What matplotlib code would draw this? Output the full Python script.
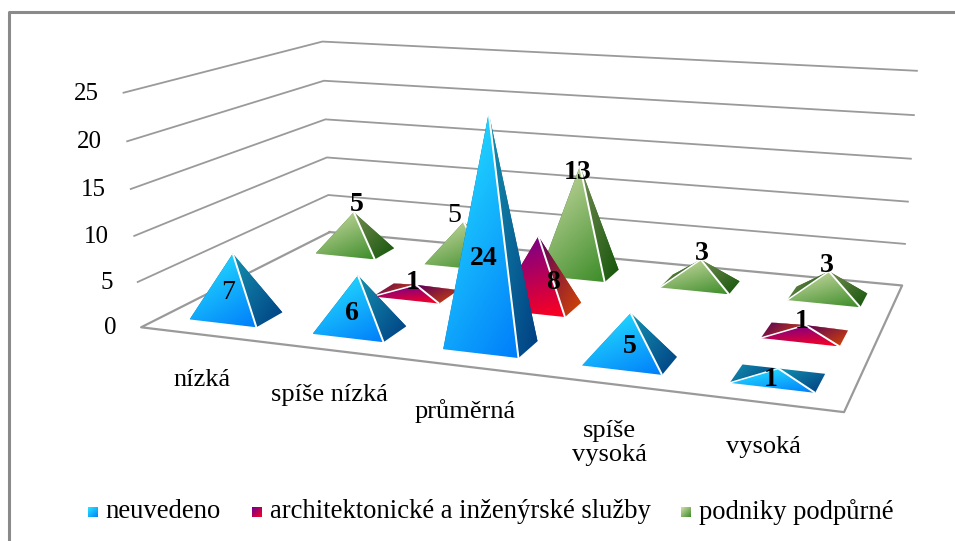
import numpy as np
import matplotlib
matplotlib.use('Agg')
import matplotlib.pyplot as plt
from matplotlib.patches import Polygon

plt.rcParams['font.family'] = ['Liberation Serif', 'DejaVu Serif']

# data
kategorie = ['nízká', 'spíše nízká', 'průměrná', 'spíše\nvysoká', 'vysoká']
neuvedeno = [7, 6, 24, 5, 1]
architekti = [0, 1, 8, 0, 1]
podpurne = [5, 5, 13, 3, 3]
serie_nazvy = ['neuvedeno', 'architektonické a inženýrské služby', 'podniky podpůrné']
osa_z = [0, 5, 10, 15, 20, 25]

# barvy: (svetla, tmava) pro prednu a bocni stenu
barvy = [
    ((40, 232, 255), (0, 125, 250), (20, 145, 175), (0, 62, 130)),
    ((105, 0, 150), (255, 0, 30), (85, 0, 95), (215, 70, 0)),
    ((212, 224, 172), (60, 140, 40), (115, 140, 80), (20, 85, 10)),
]

# kalibrace perspektivy: (kategorie, rada, hodnota) -> pixel
kal_3d = [(0, 0, 0), (5, 0, 0), (5, 3, 0), (0, 3, 0),
          (0, 0, 25), (0, 3, 25), (5, 3, 25),
          (0, 0, 10), (0, 3, 10), (5, 3, 10)]
kal_px = [(141, 327), (844, 412), (902, 286), (330, 232),
          (124, 92), (322, 42), (917, 71),
          (134, 237), (327, 157), (908, 201)]

# posuny popisku hodnot v pixelech (rada, kategorie)
posun = {(0, 0): (-4, 3), (0, 1): (-4, 7), (0, 2): (-3, 9), (0, 3): (3, 6), (0, 4): (-2, 15),
         (1, 1): (2, 1), (1, 2): (18, 6), (1, 4): (2, 0),
         (2, 0): (2, 7), (2, 1): (-10, 8), (2, 2): (-3, 21), (2, 3): (0, 9), (2, 4): (-3, 9)}


def spocti_matici(body, px):
    A = []
    b = []
    for (x, y, z), (u, v) in zip(body, px):
        A.append([x, y, z, 1, 0, 0, 0, 0, -u * x, -u * y, -u * z])
        A.append([0, 0, 0, 0, x, y, z, 1, -v * x, -v * y, -v * z])
        b += [u, v]
    m = np.linalg.lstsq(np.array(A, float), np.array(b, float), rcond=None)[0]
    return np.append(m, 1).reshape(3, 4)


P = spocti_matici(kal_3d, kal_px)


def proj(x, y, z):
    u, v, w = P @ np.array([x, y, z, 1.0])
    return u / w, v / w


fig = plt.figure(figsize=(9.55, 5.41), dpi=100)
ax = fig.add_axes([0, 0, 1, 1])
ax.set_xlim(0, 955)
ax.set_ylim(541, 0)
ax.axis('off')

# ramecek
ax.plot([8.5, 8.5, 955], [541, 11.5, 11.5], color='#8a8a8a', lw=2.2, solid_capstyle='butt')

# mrizka
seda = '#9a9a9a'
for z in osa_z[1:]:
    pts = [proj(0, 0, z), proj(0, 3, z), proj(5, 3, z)]
    ax.plot(*zip(*pts), color=seda, lw=1.3)
podlaha = [proj(0, 3, 0), proj(0, 0, 0), proj(5, 0, 0), proj(5, 3, 0), proj(0, 3, 0)]
ax.plot(*zip(*podlaha), color=seda, lw=1.6)


def gradient_stena(body, c1, c2, kx, ky, zorder):
    body = np.array(body)
    x0, y0 = body.min(axis=0)
    x1, y1 = body.max(axis=0)
    if x1 - x0 < 1 or y1 - y0 < 1:
        return
    X, Y = np.meshgrid(np.linspace(0, 1, 64), np.linspace(0, 1, 64))
    t = np.clip(kx * X + ky * Y, 0, 1)[..., None]
    img = (np.array(c1) * (1 - t) + np.array(c2) * t) / 255.0
    im = ax.imshow(img, extent=[x0, x1, y1, y0], aspect='auto', zorder=zorder, interpolation='bilinear')
    im.set_clip_path(Polygon(body, closed=True, transform=ax.transData))


def jehlan(kat, rada, hodnota, barva, zorder):
    c1, c2, c3, c4 = barva
    p = 0.275
    sir = 0.195
    cx, cy = kat + 0.5, rada + 0.48
    fl = proj(cx - p, cy - sir, 0)
    fr = proj(cx + p, cy - sir, 0)
    br = proj(cx + p, cy + sir, 0)
    bl = proj(cx - p, cy + sir, 0)
    top = proj(cx, cy, hodnota)
    kx, ky = (0.2, 0.8) if barva is barvy[1] else (0.35, 0.65)
    gradient_stena([bl, br, top], c3, c4, 0.7, 0.3, zorder)
    gradient_stena([fl, bl, top], c3, c4, 0.7, 0.3, zorder + 0.1)
    gradient_stena([fr, br, top], c3, c4, 0.5, 0.5, zorder + 0.2)
    gradient_stena([fl, fr, top], c1, c2, kx, ky, zorder + 0.3)
    ax.plot(*zip(top, fr), color='white', lw=1.4, zorder=zorder + 0.4, solid_capstyle='butt')
    if hodnota < 4:
        ax.plot(*zip(top, fl), color='white', lw=1.1, zorder=zorder + 0.4, solid_capstyle='butt')


serie = [neuvedeno, architekti, podpurne]
for rada in [2, 1, 0]:
    for kat in range(5):
        h = serie[rada][kat]
        if h > 0:
            jehlan(kat, rada, h, barvy[rada], 5 + (2 - rada) * 2 + kat * 0.5)

# popisky hodnot
for rada, hodnoty in enumerate(serie):
    for kat, h in enumerate(hodnoty):
        if h == 0:
            continue
        if rada == 2:
            x, y = proj(kat + 0.5, 2.5, h)
            y -= 14
        elif h == 1:
            x, y = proj(kat + 0.5, rada + 0.5, h)
            x -= 6
            y -= 3
        else:
            x, y = proj(kat + 0.5, rada + 0.5, h * 0.42)
            x -= 4
        dx, dy = posun[(rada, kat)]
        ax.text(x + dx, y + dy, str(h), ha='center', va='center', fontsize=20,
                fontweight='bold' if (rada, kat) not in [(0, 0), (2, 1)] else 'normal',
                color='black', zorder=30)

# osa z
for z in osa_z:
    x, y = proj(0, 0, z)
    ax.text(x - 25, y + 1, str(z), ha='right', va='center', fontsize=18, color='black')

# kategorie - popisky pod prednim okrajem
for i, k in enumerate(kategorie):
    x, y = proj(i + 0.5, 0, 0)
    ax.text(x, y + 45 + (14 if '\n' in k else 0), k, ha='center', va='center', fontsize=19,
            linespacing=1.15, color='black')

# legenda
leg_x = [88, 252, 681]
leg_t = [105, 270, 699]
for (c1, c2, c3, c4), sx, tx, nazev in zip(barvy, leg_x, leg_t, serie_nazvy):
    gradient_stena([(sx, 507), (sx + 10, 507), (sx + 10, 517), (sx, 517)], c1, c2, 0.5, 0.5, 10)
    ax.text(tx, 512, nazev, ha='left', va='center', fontsize=19.2, color='black')

ax.set_xlim(0, 955)
ax.set_ylim(541, 0)
fig.savefig('out.png', dpi=100, facecolor='white')
